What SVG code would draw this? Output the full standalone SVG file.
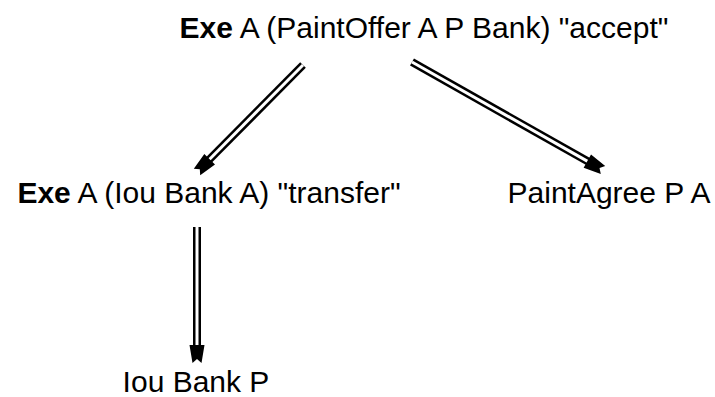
<svg xmlns="http://www.w3.org/2000/svg" width="715" height="397" viewBox="0 0 715 397">
<style>
text{font-family:"Liberation Sans",Arial,sans-serif;font-size:30px;fill:#000;text-anchor:middle}
.b{font-weight:bold}
.outer{stroke:#000;stroke-width:8;fill:none;stroke-linecap:butt}
.inner{stroke:#fff;stroke-width:3;fill:none;stroke-linecap:butt}
</style>
<defs>
<path id="head" d="M-7.5,-18 L7.5,-18 L4.5,0 L0,-4 L-4.5,0 Z" fill="#000"/>
</defs>
<rect width="715" height="397" fill="#fff"/>
<g id="connectors">
<g id="e1">
<line class="outer" x1="303" y1="65" x2="207.6" y2="161.3"/>
<line class="inner" x1="303" y1="65" x2="207.6" y2="161.3"/>
<use href="#head" transform="translate(197,172) rotate(44.7)"/>
</g>
<g id="e2">
<line class="outer" x1="412" y1="62" x2="589.9" y2="162.6"/>
<line class="inner" x1="412" y1="62" x2="589.9" y2="162.6"/>
<use href="#head" transform="translate(603,170) rotate(-60.5)"/>
</g>
<g id="e3">
<line class="outer" x1="197" y1="227" x2="197" y2="348"/>
<line class="inner" x1="197" y1="227" x2="197" y2="348"/>
<use href="#head" transform="translate(197,363)"/>
</g>
</g>
<g id="n1"><text x="424" y="38"><tspan class="b">Exe</tspan> A (PaintOffer A P Bank) "accept"</text></g>
<g id="n2"><text x="209" y="203"><tspan class="b">Exe</tspan> A (Iou Bank A) "transfer"</text></g>
<g id="n3"><text x="609" y="203">PaintAgree P A</text></g>
<g id="n4"><text x="196" y="392">Iou Bank P</text></g>
</svg>
